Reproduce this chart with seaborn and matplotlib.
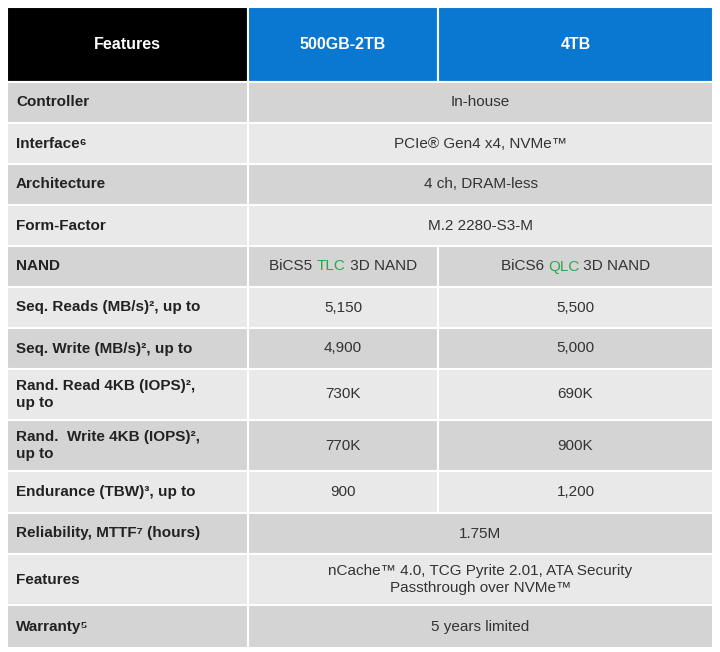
import matplotlib
matplotlib.use("Agg")
import matplotlib.pyplot as plt
import seaborn as sns
from matplotlib.patches import Rectangle

sns.set_theme(style="white")
FONT = ["Liberation Sans", "DejaVu Sans"]

headers = ["Features", "500GB-2TB", "4TB"]
labels = ["Controller", "Interface⁶", "Architecture", "Form-Factor", "NAND",
          "Seq. Reads (MB/s)², up to", "Seq. Write (MB/s)², up to",
          "Rand. Read 4KB (IOPS)²,\nup to", "Rand.  Write 4KB (IOPS)²,\nup to",
          "Endurance (TBW)³, up to", "Reliability, MTTF⁷ (hours)", "Features", "Warranty⁵"]
col_a = ["In-house", "PCIe® Gen4 x4, NVMe™", "4 ch, DRAM-less", "M.2 2280-S3-M",
         "BiCS5 |TLC| 3D NAND", "5,150", "4,900", "730K", "770K", "900", "1.75M",
         "nCache™ 4.0, TCG Pyrite 2.01, ATA Security\nPassthrough over NVMe™", "5 years limited"]
col_b = [None, None, None, None, "BiCS6 |QLC| 3D NAND", "5,500", "5,000", "690K", "900K",
         "1,200", None, None, None]
row_heights = [41, 41, 41, 41, 41, 41, 41, 51, 51, 42, 41, 51, 43]

W, H = 720, 652
fig = plt.figure(figsize=(W/100, H/100), dpi=100)
ax = fig.add_axes([0, 0, 1, 1])
ax.set_xlim(0, W); ax.set_ylim(H, 0); ax.axis("off")
x0, x1, x2, x3 = 7, 248, 438, 713
top = 7; hh = 75
line = "white"

def box(x, y, w, h, c):
    ax.add_patch(Rectangle((x, y), w, h, facecolor=c, edgecolor=line, lw=1.5))

box(x0, top, x1-x0, hh, "black")
box(x1, top, x2-x1, hh, "#0a77d0")
box(x2, top, x3-x2, hh, "#0a77d0")
for cx, t in zip([(x0+x1)/2, (x1+x2)/2, (x2+x3)/2], headers):
    ax.text(cx, top+hh/2, t, color="white", fontsize=11.5, weight="bold",
            ha="center", va="center", family=FONT)

fig.canvas.draw()
rend = fig.canvas.get_renderer()

def colored(cx, cy, s):
    parts = s.split("|")
    cols = ["#333333", "#2aa84a", "#333333"]
    texts, widths = [], []
    for p, c in zip(parts, cols):
        t = ax.text(0, cy, p, color=c, fontsize=11, ha="left", va="center", family=FONT)
        bb = t.get_window_extent(rend)
        texts.append(t); widths.append(bb.width)
    x = cx - sum(widths)/2
    for t, w in zip(texts, widths):
        t.set_x(x); x += w

y = top + hh
for i, (lab, a, b, h) in enumerate(zip(labels, col_a, col_b, row_heights)):
    c = "#d4d4d4" if i % 2 == 0 else "#e9e9e9"
    box(x0, y, x1-x0, h, c)
    ax.text(x0+9, y+h/2, lab, fontsize=11, weight="bold", color="#222222",
            ha="left", va="center", family=FONT, linespacing=1.2)
    if b is None:
        box(x1, y, x3-x1, h, c)
        ax.text((x1+x3)/2, y+h/2, a, fontsize=11, color="#333333", ha="center",
                va="center", family=FONT, linespacing=1.2)
    else:
        box(x1, y, x2-x1, h, c)
        box(x2, y, x3-x2, h, c)
        for cx, t in [((x1+x2)/2, a), ((x2+x3)/2, b)]:
            if "|" in t:
                colored(cx, y+h/2, t)
            else:
                ax.text(cx, y+h/2, t, fontsize=11, color="#333333", ha="center",
                        va="center", family=FONT)
    y += h

fig.savefig("out.png", dpi=100, facecolor="white")
